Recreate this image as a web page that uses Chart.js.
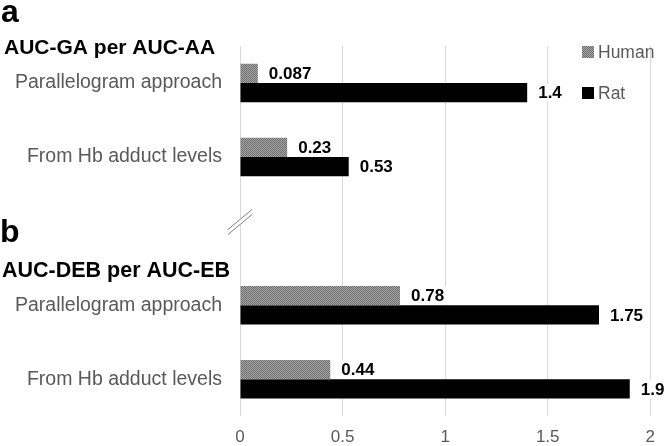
<!DOCTYPE html>
<html>
<head>
<meta charset="utf-8">
<script src="https://cdn.jsdelivr.net/npm/chart.js@4"></script>
<style>
  html, body { margin: 0; padding: 0; background: #fff; }
  #wrap { position: relative; width: 666px; height: 446px; }
</style>
</head>
<body>
<div id="wrap"><canvas id="aucChart" width="666" height="446"></canvas></div>
<script>
// Chart data
const categories = ['Parallelogram approach', 'From Hb adduct levels', '', 'Parallelogram approach', 'From Hb adduct levels'];
const humanValues = [0.087, 0.23, null, 0.78, 0.44];
const ratValues = [1.4, 0.53, null, 1.75, 1.9];
const humanLabels = ['0.087', '0.23', '', '0.78', '0.44'];
const ratLabels = ['1.4', '0.53', '', '1.75', '1.9'];
const xTicks = [0, 0.5, 1, 1.5, 2];
const xTickLabels = ['0', '0.5', '1', '1.5', '2'];
const panelLetters = ['a', 'b'];
const panelTitles = ['AUC-GA per AUC-AA', 'AUC-DEB per AUC-EB'];
const seriesNames = ['Human', 'Rat'];

const GREY_TEXT = '#595959';
const FONT = '"Liberation Sans", Arial, sans-serif';

// fine checker pattern for the Human bars
function makeHatch() {
    const c = document.createElement('canvas');
    c.width = 2; c.height = 2;
    const g = c.getContext('2d');
    g.fillStyle = '#a6a6a6';
    g.fillRect(0, 0, 2, 2);
    g.fillStyle = '#6e6e6e';
    g.fillRect(0, 0, 1, 1);
    g.fillRect(1, 1, 1, 1);
    return g.createPattern(c, 'repeat');
}
const hatch = makeHatch();

// value labels, headings, legend, axis break
const extrasPlugin = {
    id: 'extras',
    afterDatasetsDraw(chart) {
        const ctx = chart.ctx;
        const labelSets = [humanLabels, ratLabels];
        ctx.save();
        ctx.font = 'bold 17px ' + FONT;
        ctx.textBaseline = 'middle';
        ctx.textAlign = 'left';
        chart.data.datasets.forEach((ds, i) => {
            const meta = chart.getDatasetMeta(i);
            meta.data.forEach((bar, j) => {
                const txt = labelSets[i][j];
                if (!txt) return;
                const x = bar.x + 11;
                const w = ctx.measureText(txt).width;
                ctx.fillStyle = '#fff';
                ctx.fillRect(x - 2, bar.y - 9, w + 4, 18);
                ctx.fillStyle = '#000';
                ctx.fillText(txt, x, bar.y + 1);
            });
        });
        ctx.restore();
    },
    afterDraw(chart) {
        const ctx = chart.ctx;
        ctx.save();
        // panel letters
        ctx.fillStyle = '#000';
        ctx.textAlign = 'left';
        ctx.textBaseline = 'alphabetic';
        ctx.font = 'bold 32px ' + FONT;
        ctx.fillText(panelLetters[0], 1, 22);
        ctx.fillText(panelLetters[1], 0, 242);
        // panel titles
        ctx.textBaseline = 'middle';
        ctx.font = 'bold 21px ' + FONT;
        ctx.fillText(panelTitles[0], 4, 48);
        ctx.font = 'bold 21.5px ' + FONT;
        ctx.fillText(panelTitles[1], 2, 271);

        // axis break marks
        const x0 = chart.scales.x.getPixelForValue(0);
        const yb = 222;
        ctx.strokeStyle = '#fff';
        ctx.lineWidth = 5;
        ctx.beginPath();
        ctx.moveTo(x0 - 11, yb + 9);
        ctx.lineTo(x0 + 11, yb - 9);
        ctx.stroke();
        ctx.strokeStyle = '#7f7f7f';
        ctx.lineWidth = 1;
        [-2.5, 2.5].forEach(d => {
            ctx.beginPath();
            ctx.moveTo(x0 - 12, yb + 10 + d);
            ctx.lineTo(x0 + 12, yb - 10 + d);
            ctx.stroke();
        });

        // legend
        ctx.font = '17.5px ' + FONT;
        ctx.textBaseline = 'middle';
        const fills = [hatch, '#000'];
        const ys = [52, 93];
        seriesNames.forEach((name, i) => {
            ctx.fillStyle = fills[i];
            ctx.fillRect(582, ys[i] - 6, 12, 12);
            ctx.fillStyle = GREY_TEXT;
            ctx.fillText(name, 598, ys[i] + 1);
        });
        ctx.restore();
    }
};

new Chart(document.getElementById('aucChart'), {
    type: 'bar',
    data: {
        labels: categories,
        datasets: [{
            label: seriesNames[0],
            data: humanValues,
            backgroundColor: hatch,
            borderWidth: 0
        }, {
            label: seriesNames[1],
            data: ratValues,
            backgroundColor: '#000',
            borderWidth: 0
        }]
    },
    options: {
        indexAxis: 'y',
        responsive: false,
        animation: false,
        categoryPercentage: 0.52,
        barPercentage: 1,
        layout: {
            padding: { top: 46, right: 11, bottom: 0, left: 0 }
        },
        plugins: {
            legend: { display: false },
            tooltip: { enabled: false }
        },
        scales: {
            x: {
                min: 0,
                max: 2,
                afterBuildTicks: (s) => { s.ticks = xTicks.map(v => ({ value: v })); },
                afterFit: (s) => { s.height = 29; },
                grid: { color: '#d9d9d9', drawTicks: false },
                border: { display: false },
                ticks: {
                    color: GREY_TEXT,
                    padding: 11,
                    font: { family: FONT, size: 17 },
                    callback: (v, i) => xTickLabels[i]
                }
            },
            y: {
                afterFit: (s) => { s.width = 240; },
                grid: { display: false, drawTicks: false },
                border: { display: false },
                ticks: {
                    color: GREY_TEXT,
                    padding: 18,
                    font: { family: FONT, size: 19.5 }
                }
            }
        }
    },
    plugins: [extrasPlugin]
});
</script>
</body>
</html>
